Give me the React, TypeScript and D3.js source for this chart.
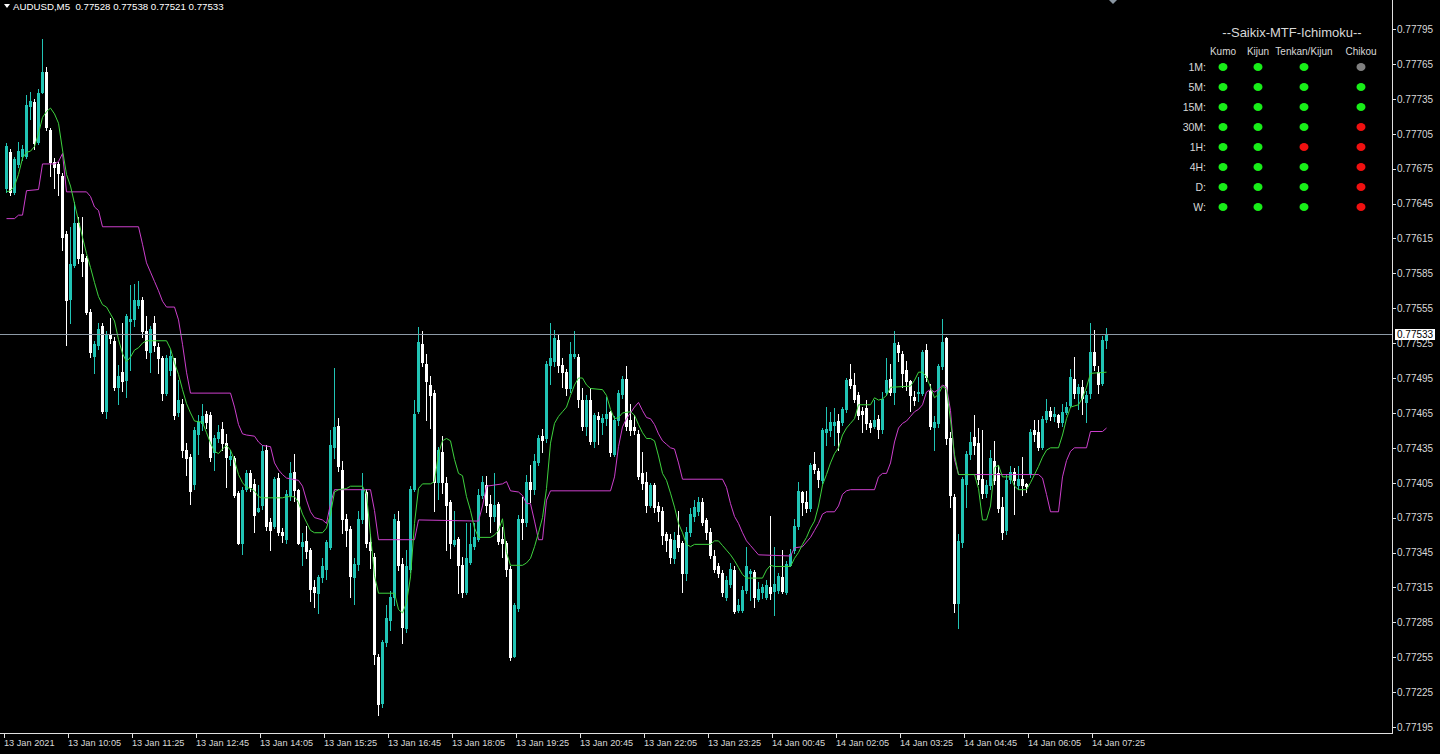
import * as d3 from "d3";

// AUDUSD M5, 13 Jan 08:45 .. 14 Jan 07:40 (276 bars)
const OPEN = [
  0.77658,0.77689,0.77655,0.77679,0.77686,0.77686,0.77729,0.77732,0.77698,0.77741,
  0.77758,0.77708,0.77681,0.77679,0.77669,0.77619,0.77563,0.77592,0.77628,0.77602,
  0.77598,0.77552,0.77514,0.77523,0.77540,0.77467,0.77532,0.77527,0.77487,0.77500,
  0.77493,0.77544,0.77546,0.77558,0.77562,0.77535,0.77517,0.77542,0.77522,0.77512,
  0.77482,0.77502,0.77512,0.77466,0.77473,0.77433,0.77427,0.77404,0.77447,0.77456,
  0.77464,0.77463,0.77431,0.77443,0.77451,0.77439,0.77425,0.77426,0.77396,0.77353,
  0.77400,0.77413,0.77404,0.77381,0.77386,0.77433,0.77371,0.77368,0.77409,0.77363,
  0.77357,0.77394,0.77414,0.77399,0.77351,0.77355,0.77347,0.77315,0.77310,0.77324,
  0.77331,0.77350,0.77436,0.77454,0.77416,0.77374,0.77365,0.77324,0.77335,0.77374,
  0.77397,0.77354,0.77341,0.77255,0.77216,0.77268,0.77287,0.77307,0.77372,0.77335,
  0.77280,0.77331,0.77400,0.77467,0.77524,0.77507,0.77489,0.77482,0.77406,0.77431,
  0.77405,0.77388,0.77352,0.77357,0.77334,0.77311,0.77337,0.77351,0.77357,0.77394,
  0.77403,0.77387,0.77376,0.77387,0.77357,0.77353,0.77331,0.77256,0.77297,0.77374,
  0.77371,0.77406,0.77400,0.77423,0.77445,0.77443,0.77506,0.77510,0.77528,0.77506,
  0.77500,0.77486,0.77514,0.77513,0.77476,0.77454,0.77476,0.77441,0.77462,0.77457,
  0.77461,0.77466,0.77430,0.77459,0.77481,0.77494,0.77459,0.77453,0.77447,0.77413,
  0.77406,0.77386,0.77403,0.77385,0.77381,0.77361,0.77357,0.77340,0.77360,0.77353,
  0.77327,0.77363,0.77376,0.77381,0.77388,0.77373,0.77363,0.77342,0.77333,0.77327,
  0.77307,0.77318,0.77330,0.77296,0.77296,0.77313,0.77327,0.77328,0.77305,0.77311,
  0.77307,0.77315,0.77312,0.77313,0.77324,0.77311,0.77334,0.77347,0.77368,0.77397,
  0.77388,0.77383,0.77421,0.77415,0.77407,0.77449,0.77450,0.77455,0.77458,0.77457,
  0.77468,0.77494,0.77489,0.77480,0.77467,0.77469,0.77456,0.77454,0.77460,0.77451,
  0.77483,0.77494,0.77483,0.77523,0.77516,0.77502,0.77492,0.77479,0.77482,0.77482,
  0.77519,0.77484,0.77453,0.77456,0.77505,0.77529,0.77443,0.77393,0.77302,0.77354,
  0.77404,0.77430,0.77444,0.77439,0.77408,0.77396,0.77403,0.77424,0.77413,0.77384,
  0.77364,0.77408,0.77414,0.77403,0.77408,0.77404,0.77413,0.77450,0.77449,0.77436,
  0.77460,0.77467,0.77462,0.77463,0.77457,0.77466,0.77472,0.77494,0.77482,0.77487,
  0.77474,0.77482,0.77517,0.77500,0.77491,0.77528,
];

const HIGH = [
  0.77697,0.77692,0.77685,0.77698,0.77695,0.77738,0.77741,0.77735,0.77743,0.77786,
  0.77762,0.77710,0.77684,0.77681,0.77671,0.77621,0.77625,0.77646,0.77633,0.77633,
  0.77600,0.77554,0.77527,0.77542,0.77542,0.77535,0.77547,0.77530,0.77506,0.77542,
  0.77550,0.77575,0.77576,0.77578,0.77565,0.77548,0.77540,0.77548,0.77525,0.77514,
  0.77515,0.77519,0.77512,0.77493,0.77477,0.77439,0.77430,0.77453,0.77463,0.77473,
  0.77467,0.77466,0.77446,0.77455,0.77457,0.77447,0.77433,0.77428,0.77398,0.77401,
  0.77416,0.77416,0.77408,0.77403,0.77437,0.77437,0.77375,0.77410,0.77413,0.77366,
  0.77399,0.77423,0.77430,0.77400,0.77362,0.77368,0.77349,0.77321,0.77326,0.77340,
  0.77356,0.77450,0.77504,0.77461,0.77424,0.77378,0.77368,0.77340,0.77381,0.77413,
  0.77400,0.77361,0.77345,0.77258,0.77270,0.77300,0.77312,0.77378,0.77381,0.77340,
  0.77347,0.77402,0.77476,0.77539,0.77535,0.77516,0.77497,0.77485,0.77436,0.77445,
  0.77410,0.77390,0.77381,0.77358,0.77341,0.77370,0.77370,0.77370,0.77400,0.77411,
  0.77411,0.77394,0.77413,0.77388,0.77367,0.77355,0.77333,0.77302,0.77377,0.77393,
  0.77412,0.77420,0.77430,0.77446,0.77451,0.77510,0.77542,0.77536,0.77532,0.77512,
  0.77503,0.77526,0.77535,0.77516,0.77486,0.77480,0.77486,0.77465,0.77466,0.77464,
  0.77479,0.77467,0.77462,0.77485,0.77497,0.77505,0.77473,0.77463,0.77450,0.77431,
  0.77414,0.77405,0.77405,0.77388,0.77384,0.77363,0.77361,0.77363,0.77381,0.77355,
  0.77367,0.77383,0.77390,0.77393,0.77392,0.77375,0.77366,0.77347,0.77336,0.77330,
  0.77325,0.77336,0.77333,0.77305,0.77316,0.77350,0.77331,0.77330,0.77320,0.77318,
  0.77321,0.77376,0.77350,0.77327,0.77347,0.77338,0.77348,0.77374,0.77406,0.77398,
  0.77398,0.77422,0.77431,0.77418,0.77452,0.77470,0.77466,0.77469,0.77464,0.77470,
  0.77495,0.77507,0.77499,0.77483,0.77470,0.77476,0.77459,0.77476,0.77463,0.77483,
  0.77512,0.77507,0.77535,0.77526,0.77518,0.77510,0.77493,0.77484,0.77496,0.77519,
  0.77524,0.77490,0.77462,0.77507,0.77546,0.77530,0.77449,0.77395,0.77361,0.77410,
  0.77432,0.77449,0.77463,0.77452,0.77450,0.77407,0.77433,0.77441,0.77420,0.77393,
  0.77412,0.77419,0.77418,0.77419,0.77427,0.77405,0.77451,0.77459,0.77459,0.77462,
  0.77477,0.77470,0.77470,0.77464,0.77473,0.77474,0.77503,0.77513,0.77490,0.77493,
  0.77484,0.77542,0.77536,0.77505,0.77531,0.77538,
];

const LOW = [
  0.77655,0.77652,0.77653,0.77676,0.77682,0.77684,0.77718,0.77692,0.77696,0.77740,
  0.77708,0.77669,0.77658,0.77652,0.77605,0.77523,0.77542,0.77590,0.77594,0.77583,
  0.77550,0.77513,0.77499,0.77520,0.77465,0.77461,0.77525,0.77485,0.77473,0.77484,
  0.77479,0.77502,0.77540,0.77555,0.77530,0.77512,0.77500,0.77518,0.77499,0.77476,
  0.77480,0.77498,0.77460,0.77462,0.77427,0.77412,0.77387,0.77400,0.77430,0.77450,
  0.77452,0.77424,0.77416,0.77440,0.77433,0.77401,0.77420,0.77393,0.77352,0.77344,
  0.77398,0.77398,0.77363,0.77380,0.77382,0.77364,0.77347,0.77366,0.77360,0.77354,
  0.77353,0.77390,0.77389,0.77352,0.77334,0.77340,0.77303,0.77298,0.77293,0.77320,
  0.77322,0.77348,0.77426,0.77415,0.77362,0.77351,0.77307,0.77301,0.77330,0.77370,
  0.77350,0.77332,0.77249,0.77205,0.77212,0.77265,0.77278,0.77300,0.77330,0.77267,
  0.77277,0.77328,0.77398,0.77465,0.77505,0.77459,0.77452,0.77381,0.77391,0.77396,
  0.77347,0.77340,0.77351,0.77310,0.77307,0.77309,0.77335,0.77348,0.77355,0.77392,
  0.77380,0.77363,0.77372,0.77352,0.77341,0.77325,0.77253,0.77255,0.77295,0.77357,
  0.77368,0.77388,0.77395,0.77420,0.77431,0.77440,0.77490,0.77505,0.77500,0.77487,
  0.77480,0.77483,0.77512,0.77470,0.77450,0.77446,0.77438,0.77436,0.77438,0.77447,
  0.77455,0.77428,0.77428,0.77455,0.77478,0.77450,0.77446,0.77447,0.77408,0.77400,
  0.77380,0.77384,0.77380,0.77372,0.77352,0.77346,0.77336,0.77336,0.77346,0.77311,
  0.77321,0.77359,0.77372,0.77377,0.77369,0.77357,0.77340,0.77328,0.77324,0.77308,
  0.77304,0.77315,0.77293,0.77294,0.77294,0.77310,0.77304,0.77298,0.77303,0.77306,
  0.77305,0.77305,0.77291,0.77310,0.77310,0.77309,0.77333,0.77345,0.77365,0.77377,
  0.77380,0.77381,0.77413,0.77401,0.77405,0.77437,0.77445,0.77437,0.77433,0.77455,
  0.77466,0.77486,0.77474,0.77460,0.77449,0.77451,0.77449,0.77452,0.77443,0.77448,
  0.77480,0.77480,0.77473,0.77510,0.77487,0.77485,0.77467,0.77472,0.77475,0.77480,
  0.77492,0.77451,0.77433,0.77453,0.77503,0.77438,0.77384,0.77294,0.77280,0.77350,
  0.77384,0.77425,0.77430,0.77404,0.77392,0.77393,0.77400,0.77404,0.77380,0.77357,
  0.77361,0.77405,0.77378,0.77400,0.77394,0.77397,0.77410,0.77441,0.77433,0.77434,
  0.77457,0.77459,0.77458,0.77453,0.77454,0.77464,0.77470,0.77478,0.77468,0.77464,
  0.77457,0.77478,0.77502,0.77482,0.77489,0.77521,
];

const CLOSE = [
  0.77694,0.77655,0.77683,0.77690,0.77692,0.77730,0.77733,0.77697,0.77740,0.77758,
  0.77711,0.77681,0.77676,0.77671,0.77616,0.77562,0.77593,0.77628,0.77598,0.77596,
  0.77552,0.77517,0.77524,0.77537,0.77467,0.77532,0.77529,0.77487,0.77497,0.77492,
  0.77548,0.77546,0.77562,0.77562,0.77535,0.77519,0.77537,0.77523,0.77512,0.77482,
  0.77512,0.77514,0.77463,0.77476,0.77433,0.77426,0.77398,0.77450,0.77457,0.77462,
  0.77457,0.77427,0.77443,0.77449,0.77439,0.77427,0.77428,0.77394,0.77353,0.77399,
  0.77413,0.77401,0.77377,0.77383,0.77432,0.77368,0.77364,0.77408,0.77363,0.77360,
  0.77395,0.77413,0.77399,0.77353,0.77354,0.77346,0.77314,0.77311,0.77324,0.77333,
  0.77354,0.77437,0.77453,0.77419,0.77374,0.77364,0.77325,0.77335,0.77374,0.77400,
  0.77353,0.77347,0.77258,0.77215,0.77268,0.77289,0.77307,0.77374,0.77334,0.77281,
  0.77333,0.77400,0.77464,0.77526,0.77509,0.77492,0.77480,0.77406,0.77433,0.77406,
  0.77386,0.77353,0.77356,0.77334,0.77311,0.77340,0.77352,0.77358,0.77394,0.77406,
  0.77386,0.77376,0.77386,0.77355,0.77353,0.77331,0.77255,0.77300,0.77374,0.77371,
  0.77406,0.77400,0.77424,0.77443,0.77442,0.77507,0.77512,0.77529,0.77506,0.77500,
  0.77486,0.77516,0.77516,0.77477,0.77454,0.77476,0.77441,0.77463,0.77460,0.77461,
  0.77464,0.77431,0.77459,0.77482,0.77494,0.77454,0.77450,0.77450,0.77411,0.77405,
  0.77386,0.77403,0.77384,0.77381,0.77360,0.77356,0.77341,0.77356,0.77350,0.77327,
  0.77363,0.77378,0.77384,0.77388,0.77371,0.77363,0.77343,0.77331,0.77327,0.77311,
  0.77321,0.77331,0.77295,0.77300,0.77313,0.77333,0.77329,0.77307,0.77314,0.77315,
  0.77317,0.77310,0.77318,0.77325,0.77312,0.77335,0.77344,0.77368,0.77398,0.77388,
  0.77383,0.77420,0.77417,0.77408,0.77450,0.77451,0.77457,0.77457,0.77449,0.77468,
  0.77493,0.77489,0.77477,0.77463,0.77464,0.77456,0.77453,0.77459,0.77451,0.77477,
  0.77493,0.77483,0.77525,0.77517,0.77499,0.77492,0.77480,0.77476,0.77483,0.77517,
  0.77496,0.77454,0.77457,0.77505,0.77526,0.77443,0.77394,0.77302,0.77355,0.77408,
  0.77430,0.77440,0.77437,0.77408,0.77396,0.77403,0.77426,0.77407,0.77383,0.77363,
  0.77407,0.77414,0.77407,0.77408,0.77403,0.77402,0.77449,0.77447,0.77436,0.77460,
  0.77467,0.77462,0.77464,0.77457,0.77466,0.77470,0.77496,0.77482,0.77487,0.77478,
  0.77480,0.77517,0.77506,0.77490,0.77528,0.77533,
];

// Ichimoku lines: [bar, price] vertices
const TENKAN: [number, number][] = [
  [0,0.77655],[1,0.77656],[2,0.77660],[3,0.77670],[4,0.77684],[5,0.77689],[6,0.77690],[7,0.77694],
  [8,0.77705],[9,0.77719],[10,0.77724],[11,0.77727],[12,0.77722],[13,0.77714],[14,0.77691],[15,0.77670],
  [16,0.77660],[17,0.77645],[18,0.77630],[19,0.77616],[20,0.77602],[21,0.77590],[22,0.77577],[23,0.77565],
  [24,0.77558],[25,0.77556],[26,0.77550],[27,0.77544],[28,0.77528],[29,0.77516],[30,0.77509],[31,0.77513],
  [32,0.77519],[33,0.77521],[34,0.77525],[35,0.77527],[40,0.77527],[41,0.77520],[42,0.77508],[43,0.77498],
  [44,0.77485],[45,0.77473],[46,0.77465],[47,0.77458],[49,0.77457],[50,0.77448],[51,0.77439],[52,0.77432],
  [53,0.77430],[54,0.77434],[55,0.77437],[56,0.77433],[57,0.77424],[58,0.77412],[59,0.77405],[60,0.77401],
  [61,0.77400],[62,0.77398],[63,0.77393],[64,0.77392],[69,0.77392],[70,0.77393],[72,0.77393],[73,0.77388],
  [74,0.77378],[75,0.77371],[76,0.77364],[77,0.77362],[79,0.77362],[80,0.77366],[81,0.77378],[82,0.77397],
  [83,0.77399],[85,0.77400],[86,0.77402],[89,0.77402],[90,0.77395],[91,0.77360],[92,0.77325],[93,0.77310],
  [97,0.77310],[98,0.77296],[99,0.77293],[100,0.77302],[101,0.77324],[102,0.77370],[103,0.77400],[104,0.77404],
  [106,0.77404],[107,0.77406],[108,0.77430],[109,0.77441],[110,0.77443],[111,0.77441],[112,0.77425],[113,0.77413],
  [114,0.77411],[115,0.77393],[116,0.77381],[117,0.77366],[118,0.77358],[121,0.77358],[122,0.77360],[123,0.77364],
  [124,0.77374],[125,0.77345],[126,0.77334],[129,0.77334],[130,0.77336],[131,0.77340],[132,0.77350],[133,0.77362],
  [134,0.77375],[135,0.77400],[136,0.77439],[137,0.77456],[138,0.77462],[139,0.77466],[140,0.77470],[141,0.77480],
  [142,0.77489],[143,0.77495],[144,0.77495],[145,0.77489],[146,0.77486],[149,0.77485],[150,0.77480],[151,0.77468],
  [152,0.77460],[153,0.77461],[154,0.77465],[156,0.77466],[157,0.77463],[158,0.77455],[159,0.77448],[160,0.77443],
  [161,0.77443],[162,0.77441],[163,0.77428],[164,0.77413],[165,0.77407],[166,0.77396],[167,0.77384],[168,0.77370],
  [169,0.77362],[170,0.77352],[171,0.77350],[172,0.77352],[176,0.77352],[177,0.77355],[178,0.77355],[179,0.77351],
  [180,0.77347],[181,0.77343],[182,0.77338],[183,0.77332],[184,0.77326],[185,0.77323],[189,0.77323],[190,0.77330],
  [191,0.77334],[192,0.77333],[196,0.77333],[197,0.77340],[198,0.77345],[199,0.77352],[200,0.77358],[201,0.77366],
  [202,0.77372],[203,0.77385],[204,0.77403],[205,0.77412],[206,0.77422],[207,0.77430],[208,0.77435],[209,0.77446],
  [210,0.77452],[211,0.77456],[212,0.77460],[213,0.77472],[216,0.77472],[217,0.77478],[218,0.77476],[219,0.77477],
  [220,0.77480],[221,0.77487],[226,0.77488],[227,0.77493],[228,0.77500],[229,0.77500],[230,0.77496],[231,0.77487],
  [232,0.77478],[233,0.77481],[234,0.77488],[235,0.77485],[236,0.77459],[237,0.77429],[238,0.77412],[242,0.77412],
  [243,0.77400],[244,0.77373],[245,0.77373],[246,0.77385],[247,0.77418],[248,0.77420],[249,0.77410],[251,0.77410],
  [252,0.77402],[253,0.77399],[255,0.77399],[256,0.77405],[257,0.77412],[258,0.77419],[259,0.77427],[260,0.77433],
  [261,0.77435],[263,0.77435],[264,0.77446],[265,0.77460],[266,0.77470],[268,0.77472],[269,0.77478],[270,0.77487],
  [271,0.77499],[275,0.77500],
];

const KIJUN: [number, number][] = [
  [0,0.77632],[2,0.77632],[3,0.77635],[4,0.77635],[5,0.77656],[8,0.77657],[9,0.77679],[12,0.77679],
  [13,0.77681],[14,0.77688],[15,0.77655],[20,0.77655],[21,0.77651],[22,0.77642],[23,0.77639],[24,0.77625],
  [33,0.77625],[34,0.77610],[35,0.77594],[36,0.77586],[37,0.77578],[38,0.77570],[39,0.77561],[40,0.77556],
  [42,0.77556],[43,0.77545],[44,0.77524],[45,0.77500],[46,0.77482],[56,0.77482],[57,0.77470],[58,0.77455],
  [59,0.77447],[60,0.77446],[62,0.77445],[63,0.77440],[64,0.77437],[66,0.77436],[67,0.77422],[68,0.77416],
  [69,0.77412],[70,0.77409],[73,0.77407],[74,0.77402],[75,0.77390],[76,0.77380],[77,0.77375],[79,0.77373],
  [80,0.77370],[81,0.77387],[82,0.77399],[91,0.77399],[92,0.77381],[93,0.77356],[102,0.77356],[103,0.77373],
  [118,0.77372],[119,0.77385],[120,0.77402],[124,0.77404],[125,0.77406],[126,0.77398],[128,0.77397],[129,0.77394],
  [130,0.77387],[131,0.77387],[132,0.77372],[133,0.77356],[134,0.77356],[135,0.77390],[136,0.77398],[151,0.77398],
  [152,0.77410],[153,0.77436],[154,0.77453],[155,0.77460],[156,0.77465],[157,0.77470],[158,0.77474],[159,0.77467],
  [160,0.77461],[161,0.77460],[162,0.77455],[163,0.77447],[164,0.77441],[165,0.77438],[166,0.77435],[167,0.77434],
  [168,0.77422],[169,0.77408],[179,0.77408],[180,0.77401],[181,0.77387],[182,0.77376],[183,0.77370],[184,0.77362],
  [185,0.77355],[186,0.77351],[187,0.77347],[188,0.77343],[196,0.77342],[197,0.77349],[199,0.77350],[200,0.77354],
  [201,0.77358],[202,0.77364],[203,0.77370],[204,0.77378],[205,0.77380],[207,0.77380],[208,0.77385],[209,0.77395],
  [210,0.77398],[211,0.77399],[217,0.77399],[218,0.77410],[219,0.77413],[220,0.77413],[221,0.77422],[222,0.77440],
  [223,0.77452],[224,0.77456],[225,0.77458],[226,0.77462],[227,0.77466],[228,0.77468],[229,0.77472],[230,0.77483],
  [231,0.77485],[232,0.77483],[233,0.77485],[234,0.77489],[235,0.77487],[236,0.77467],[237,0.77425],[238,0.77412],
  [258,0.77412],[259,0.77409],[260,0.77395],[261,0.77380],[263,0.77380],[264,0.77410],[265,0.77424],[266,0.77432],
  [267,0.77435],[270,0.77435],[271,0.77449],[274,0.77449],[275,0.77452],
];

const PRICE_TICKS = [
  0.77795, 0.77765, 0.77735, 0.77705, 0.77675, 0.77645, 0.77615, 0.77585, 0.77555, 0.77525, 0.77495,
  0.77465, 0.77435, 0.77405, 0.77375, 0.77345, 0.77315, 0.77285, 0.77255, 0.77225, 0.77195,
];
const TIME_TICK_BARS = [0, 16, 32, 48, 64, 80, 96, 112, 128, 144, 160, 176, 192, 208, 224, 240, 256, 272];
const TIME_LABELS = [
  "13 Jan 2021", "13 Jan 10:05", "13 Jan 11:25", "13 Jan 12:45", "13 Jan 14:05", "13 Jan 15:25",
  "13 Jan 16:45", "13 Jan 18:05", "13 Jan 19:25", "13 Jan 20:45", "13 Jan 22:05", "13 Jan 23:25",
  "14 Jan 00:45", "14 Jan 02:05", "14 Jan 03:25", "14 Jan 04:45", "14 Jan 06:05", "14 Jan 07:25",
];

const SYMBOL = "AUDUSD,M5";
const LAST_BAR = { o: 0.77528, h: 0.77538, l: 0.77521, c: 0.77533 };

// MTF panel
const PANEL_TITLE = "--Saikix-MTF-Ichimoku--";
const TIMEFRAMES = ["1M:", "5M:", "15M:", "30M:", "1H:", "4H:", "D:", "W:"];
const COLUMNS = ["Kumo", "Kijun", "Tenkan/Kijun", "Chikou"];
const KUMO = ["up", "up", "up", "up", "up", "up", "up", "up"];
const KIJUN_SIG = ["up", "up", "up", "up", "up", "up", "up", "up"];
const TK_CROSS = ["up", "up", "up", "up", "down", "up", "up", "up"];
const CHIKOU = ["flat", "up", "up", "down", "down", "down", "down", "down"];

const FONT = "'Liberation Sans', Arial, sans-serif";
const BULL = "#21c4b5";
const BEAR = "#ffffff";
const TEXT = "#d8d8d8";
const SIG_COLOR: Record<string, string> = { up: "#18ee18", down: "#f01010", flat: "#808080" };

export default function App() {
  const width = 1440, height = 754;
  const axisX = 1392, axisY = 733;

  const x = d3.scaleLinear().domain([0, OPEN.length - 1]).range([6, 1106]);
  const y = d3.scaleLinear().domain([0.77195, 0.77795]).range([727, 29]);

  const line = d3.line<[number, number]>()
    .x(d => Math.round(x(d[0])) + 0.5)
    .y(d => y(d[1]));

  const fmt = d3.format(".5f");
  const lastY = Math.round(y(LAST_BAR.c));

  const colX = [1223, 1258, 1304, 1361];
  const signals = [KUMO, KIJUN_SIG, TK_CROSS, CHIKOU];

  return (
    <div style={{ position: "fixed", left: 0, top: 0, width, height, background: "#000" }}>
      <svg width={width} height={height} style={{ display: "block" }} fontFamily={FONT}>
        <rect width={width} height={height} fill="#000" />

        {/* candles */}
        <g shapeRendering="crispEdges">
          {OPEN.map((o, i) => {
            const c = CLOSE[i];
            const cx = Math.round(x(i));
            const col = c >= o ? BULL : BEAR;
            const yh = Math.round(y(HIGH[i]));
            const yl = Math.round(y(LOW[i]));
            const top = Math.round(y(Math.max(o, c)));
            const bot = Math.round(y(Math.min(o, c)));
            return (
              <g key={i} fill={col}>
                <rect x={cx} y={yh} width={1} height={Math.max(1, yl - yh + 1)} />
                <rect x={cx - 1} y={top} width={3} height={Math.max(1, bot - top + 1)} />
              </g>
            );
          })}
        </g>

        {/* ichimoku lines */}
        <path d={line(KIJUN) ?? ""} fill="none" stroke="#cc3fcc" strokeWidth={1} />
        <path d={line(TENKAN) ?? ""} fill="none" stroke="#3ed23e" strokeWidth={1} />

        {/* current price line */}
        <line x1={0} x2={axisX} y1={lastY + 0.5} y2={lastY + 0.5}
          stroke="#8d9aa6" strokeWidth={1} shapeRendering="crispEdges" />

        {/* axes frame */}
        <g stroke="#e0e0e0" strokeWidth={1} shapeRendering="crispEdges">
          <line x1={axisX + 0.5} x2={axisX + 0.5} y1={0} y2={axisY + 1} />
          <line x1={0} x2={axisX + 1} y1={axisY + 0.5} y2={axisY + 0.5} />
          {PRICE_TICKS.map(p => (
            <line key={p} x1={axisX} x2={axisX + 4} y1={Math.round(y(p)) + 0.5} y2={Math.round(y(p)) + 0.5} />
          ))}
          {TIME_TICK_BARS.map(b => (
            <line key={b} x1={Math.round(x(b)) - 1.5} x2={Math.round(x(b)) - 1.5} y1={axisY} y2={axisY + 5} />
          ))}
        </g>

        {/* price labels */}
        <g fontSize={10} fill={TEXT}>
          {PRICE_TICKS.map(p => (
            <text key={p} x={axisX + 5} y={y(p) + 3.8}>{fmt(p)}</text>
          ))}
        </g>
        <rect x={1395} y={lastY - 5} width={40} height={11} fill="#ffffff" />
        <text x={1397} y={lastY + 4} fontSize={10} fill="#000">{fmt(LAST_BAR.c)}</text>

        {/* time labels */}
        <g fontSize={9.2} fill={TEXT}>
          {TIME_TICK_BARS.map((b, k) => (
            <text key={b} x={Math.round(x(b)) - 2} y={746}>{TIME_LABELS[k]}</text>
          ))}
        </g>

        {/* header */}
        <path d="M4,4 L10,4 L7,8 Z" fill="#ffffff" />
        <text x={13} y={10} fontSize={9.7} fill="#ffffff" style={{ whiteSpace: "pre" }}>
          {`${SYMBOL}  ${fmt(LAST_BAR.o)} ${fmt(LAST_BAR.h)} ${fmt(LAST_BAR.l)} ${fmt(LAST_BAR.c)}`}
        </text>

        {/* chart shift marker */}
        <path d="M1109,0 L1117,0 L1113,4 Z" fill="#8a96a2" />

        {/* MTF Ichimoku panel */}
        <g fill={TEXT}>
          <text x={1292} y={37} fontSize={13} textAnchor="middle">{PANEL_TITLE}</text>
          {COLUMNS.map((c, j) => (
            <text key={c} x={colX[j]} y={55} fontSize={10} textAnchor="middle">{c}</text>
          ))}
          {TIMEFRAMES.map((t, r) => (
            <text key={t} x={1206} y={71 + r * 20} fontSize={10.5} textAnchor="end">{t}</text>
          ))}
        </g>
        {signals.map((arr, j) =>
          arr.map((s, r) => (
            <ellipse key={`${j}-${r}`} cx={colX[j]} cy={67 + r * 20} rx={4.5} ry={4} fill={SIG_COLOR[s]} />
          ))
        )}
      </svg>
    </div>
  );
}
